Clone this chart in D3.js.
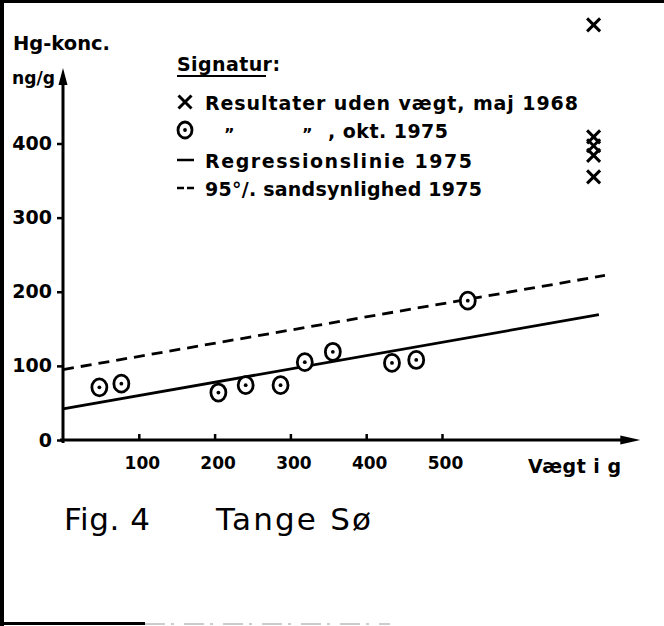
<!DOCTYPE html>
<html>
<head>
<meta charset="utf-8">
<script src="https://cdn.jsdelivr.net/npm/d3@7"></script>
<style>
body { margin: 0; background: #fff; }
text { font-family: "DejaVu Sans", sans-serif; fill: #000; font-weight: bold; }
text.caption { font-weight: normal; }
</style>
</head>
<body>
<script>
// Hg concentration (ng/g) against weight (g), Tange Sø
var weights1975 = [48, 77, 205, 241, 287, 319, 356, 434, 466, 534];
var hg1975 = [71, 76, 64, 74, 74, 105, 119, 104, 108, 188];
// 1968 results have no weight, drawn in a column at the right
var hg1968 = [560, 409, 397, 384, 355];
var noWeightPos = 700;
var regressionLine = [[0, 42], [707, 169]];
var upperLine = [[0, 95], [715, 222]];
var xTicks = [100, 200, 300, 400, 500];
var yTicks = [0, 100, 200, 300, 400];
var legendTitle = "Signatur:";
var legendLabels = ["Resultater uden vægt, maj 1968", ", okt. 1975", "Regressionslinie 1975", "95°/. sandsynlighed 1975"];

var width = 664, height = 626;

var svg = d3.select("body").append("svg")
    .attr("width", width)
    .attr("height", height);

var x = d3.scaleLinear().domain([0, 700]).range([63, 593.6]);
var y = d3.scaleLinear().domain([0, 400]).range([440, 143.5]);

// page frame (scan edges)
svg.append("line").attr("x1", 2).attr("y1", 0).attr("x2", 2).attr("y2", height)
    .attr("stroke", "#000").attr("stroke-width", 4);
svg.append("line").attr("x1", 0).attr("y1", 1.5).attr("x2", width).attr("y2", 1.5)
    .attr("stroke", "#000").attr("stroke-width", 3);
svg.append("line").attr("x1", 0).attr("y1", 623.5).attr("x2", 145).attr("y2", 623.5)
    .attr("stroke", "#000").attr("stroke-width", 3);
svg.append("line").attr("x1", 145).attr("y1", 624).attr("x2", 390).attr("y2", 624)
    .attr("stroke", "#999").attr("stroke-width", 1).attr("stroke-dasharray", "20,6,3,10");

// y axis
var yAxis = d3.axisLeft(y).tickValues(yTicks).tickSize(6).tickPadding(5);
var gy = svg.append("g")
    .attr("transform", "translate(" + x(0) + ",0)")
    .call(yAxis);
gy.select(".domain").remove();
gy.selectAll(".tick line").attr("stroke", "#000").attr("stroke-width", 2.5);
gy.selectAll(".tick text").attr("font-size", 19).attr("font-family", null);

var yTop = y(502);
svg.append("line")
    .attr("x1", x(0)).attr("y1", y(0) + 3)
    .attr("x2", x(0)).attr("y2", yTop + 10)
    .attr("stroke", "#000").attr("stroke-width", 3);
svg.append("path")
    .attr("d", "M" + x(0) + "," + yTop + "L" + (x(0) - 4.5) + "," + (yTop + 17) + "L" + (x(0) + 4.5) + "," + (yTop + 17) + "Z")
    .attr("fill", "#000");

// x axis, ticks point up, labels below
var xAxis = d3.axisBottom(x).tickValues(xTicks).tickSizeInner(-6).tickSizeOuter(0).tickPadding(17);
var gx = svg.append("g")
    .attr("transform", "translate(0," + y(0) + ")")
    .call(xAxis);
gx.select(".domain").remove();
gx.selectAll(".tick line").attr("stroke", "#000").attr("stroke-width", 2.5);
gx.selectAll(".tick text").attr("font-size", 17).attr("dx", 3).attr("font-family", null);

var xEnd = x(759);
svg.append("line")
    .attr("x1", x(0) - 3).attr("y1", y(0))
    .attr("x2", xEnd - 10).attr("y2", y(0))
    .attr("stroke", "#000").attr("stroke-width", 3);
svg.append("path")
    .attr("d", "M" + (xEnd + 2) + "," + y(0) + "L" + (xEnd - 18) + "," + (y(0) - 4.5) + "L" + (xEnd - 18) + "," + (y(0) + 4.5) + "Z")
    .attr("fill", "#000");

// axis titles
svg.append("text").attr("x", 13).attr("y", 50).attr("font-size", 19)
    .attr("textLength", 97).attr("lengthAdjust", "spacingAndGlyphs").text("Hg-konc.");
svg.append("text").attr("x", 12).attr("y", 84).attr("font-size", 18)
    .attr("textLength", 43).attr("lengthAdjust", "spacingAndGlyphs").text("ng/g");
svg.append("text").attr("x", 528).attr("y", 473).attr("font-size", 19)
    .attr("textLength", 93).attr("lengthAdjust", "spacing").text("Vægt i g");

// lines
var line = d3.line()
    .x(function (d) { return x(d[0]); })
    .y(function (d) { return y(d[1]); });

svg.append("path").datum(regressionLine)
    .attr("d", line).attr("fill", "none")
    .attr("stroke", "#000").attr("stroke-width", 2.8);
svg.append("path").datum(upperLine)
    .attr("d", line).attr("fill", "none")
    .attr("stroke", "#000").attr("stroke-width", 2.8)
    .attr("stroke-dasharray", "11,7");

// 1975 points
var pts = svg.append("g").selectAll("g")
    .data(weights1975.map(function (w, i) { return [w, hg1975[i]]; }))
    .enter().append("g")
    .attr("transform", function (d) { return "translate(" + x(d[0]) + "," + y(d[1]) + ")"; });
pts.append("ellipse").attr("rx", 7.5).attr("ry", 8.5)
    .attr("fill", "#fff").attr("stroke", "#000").attr("stroke-width", 2.8);
pts.append("circle").attr("r", 1.9).attr("fill", "#000");

// 1968 crosses
function cross(sel, s) {
    sel.append("path")
        .attr("d", "M" + (-s) + "," + (-s) + "L" + s + "," + s + "M" + (-s) + "," + s + "L" + s + "," + (-s))
        .attr("stroke", "#000").attr("stroke-width", 3).attr("fill", "none");
}
svg.append("g").selectAll("g")
    .data(hg1968)
    .enter().append("g")
    .attr("transform", function (d) { return "translate(" + x(noWeightPos) + "," + y(d) + ")"; })
    .each(function () { cross(d3.select(this), 6.5); });

// legend
var legX = 185;
var rows = [102, 130, 160, 188];
svg.append("text").attr("x", 177).attr("y", 71).attr("font-size", 19)
    .attr("textLength", 103).attr("lengthAdjust", "spacing").text(legendTitle);
svg.append("line").attr("x1", 177).attr("y1", 76).attr("x2", 266).attr("y2", 76)
    .attr("stroke", "#000").attr("stroke-width", 2);

var g0 = svg.append("g").attr("transform", "translate(" + legX + "," + rows[0] + ")");
cross(g0, 6.5);
svg.append("text").attr("x", 205).attr("y", rows[0] + 8).attr("font-size", 19)
    .attr("textLength", 373).attr("lengthAdjust", "spacing").text(legendLabels[0]);

var g1 = svg.append("g").attr("transform", "translate(" + legX + "," + rows[1] + ")");
g1.append("ellipse").attr("rx", 7).attr("ry", 8)
    .attr("fill", "#fff").attr("stroke", "#000").attr("stroke-width", 2.8);
g1.append("circle").attr("r", 1.9).attr("fill", "#000");
svg.append("text").attr("x", 224).attr("y", rows[1] + 10).attr("font-size", 16).text("\u201D");
svg.append("text").attr("x", 302).attr("y", rows[1] + 10).attr("font-size", 16).text("\u201D");
svg.append("text").attr("x", 328).attr("y", rows[1] + 8).attr("font-size", 19)
    .attr("textLength", 120).attr("lengthAdjust", "spacing").text(legendLabels[1]);

svg.append("line").attr("x1", 177).attr("y1", rows[2]).attr("x2", 194).attr("y2", rows[2])
    .attr("stroke", "#000").attr("stroke-width", 2.5);
svg.append("text").attr("x", 205).attr("y", rows[2] + 8).attr("font-size", 19)
    .attr("textLength", 267).attr("lengthAdjust", "spacing").text(legendLabels[2]);

svg.append("line").attr("x1", 177).attr("y1", rows[3]).attr("x2", 194).attr("y2", rows[3])
    .attr("stroke", "#000").attr("stroke-width", 2.5).attr("stroke-dasharray", "7,3");
svg.append("text").attr("x", 205).attr("y", rows[3] + 8).attr("font-size", 19)
    .attr("textLength", 277).attr("lengthAdjust", "spacing").text(legendLabels[3]);

// caption
svg.append("text").attr("class", "caption").attr("x", 64).attr("y", 530).attr("font-size", 31)
    .attr("textLength", 86).attr("lengthAdjust", "spacing").text("Fig. 4");
svg.append("text").attr("class", "caption").attr("x", 216).attr("y", 530).attr("font-size", 31)
    .attr("textLength", 155).attr("lengthAdjust", "spacing").text("Tange Sø");
</script>
</body>
</html>
